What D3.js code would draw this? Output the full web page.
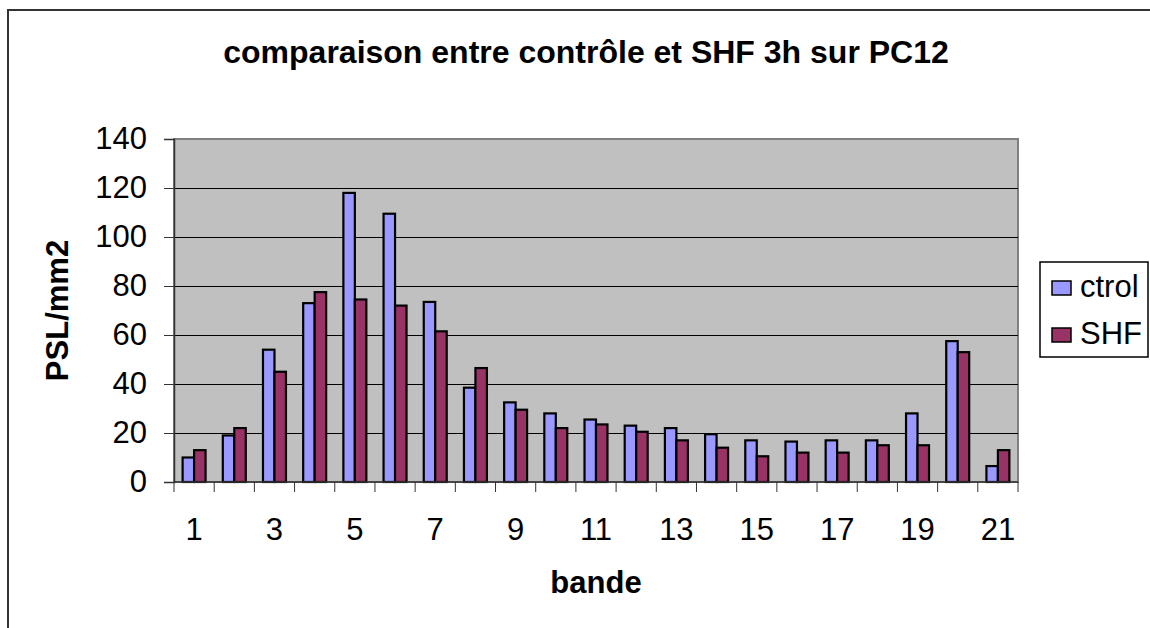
<!DOCTYPE html>
<html>
<head>
<meta charset="utf-8">
<script src="https://cdn.jsdelivr.net/npm/d3@7"></script>
<style>
  body { margin: 0; background: #fff; }
  svg { display: block; font-family: "Liberation Sans", Arial, sans-serif; }
</style>
</head>
<body>
<div id="chart"></div>
<script>
// data
const bandes = d3.range(1, 22)
const series = ["ctrol", "SHF"]
const ctrol = [10, 19, 54, 73, 118, 109.5, 73.5, 38.5, 32.5, 28, 25.5, 23, 22, 19.5, 17, 16.5, 17, 17, 28, 57.5, 6.5]
const shf = [13, 22, 45, 77.5, 74.5, 72, 61.5, 46.5, 29.5, 22, 23.5, 20.5, 17, 14, 10.5, 12, 12, 15, 15, 53, 13]
const yTicks = [0, 20, 40, 60, 80, 100, 120, 140]
const xLabels = bandes.filter(d => d % 2 === 1)
const colors = ["#9999FF", "#993366"]

const width = 1150
const height = 628
const plot = {left: 174, right: 1018, top: 139, bottom: 482}

const svg = d3.select("#chart").append("svg")
    .attr("width", width)
    .attr("height", height)

// outer chart border (runs off the right and bottom)
svg.append("rect")
    .attr("x", 8).attr("y", 10)
    .attr("width", width + 20).attr("height", height + 20)
    .attr("fill", "#fff")
    .attr("stroke", "#333").attr("stroke-width", 2)

const x = d3.scaleBand().domain(bandes).range([plot.left, plot.right])
const xSub = d3.scaleBand().domain(series).range([0, x.bandwidth()]).paddingOuter(0.75)
const y = d3.scaleLinear().domain([0, 140]).range([plot.bottom, plot.top])

// plot area
svg.append("rect")
    .attr("x", plot.left).attr("y", plot.top)
    .attr("width", plot.right - plot.left).attr("height", plot.bottom - plot.top)
    .attr("fill", "#C0C0C0")
    .attr("stroke", "#808080").attr("stroke-width", 2)

// gridlines
svg.append("g")
    .attr("transform", `translate(${plot.left},0)`)
    .call(d3.axisLeft(y).tickValues(yTicks.slice(1, -1)).tickSize(-(plot.right - plot.left)).tickFormat(""))
    .call(g => g.select(".domain").remove())
    .call(g => g.selectAll(".tick line").attr("stroke", "#000").attr("shape-rendering", "crispEdges"))

// bars
const rows = bandes.map((b, i) => ({bande: b, values: [ctrol[i], shf[i]]}))
svg.append("g").selectAll("g")
  .data(rows)
  .join("g")
    .attr("transform", d => `translate(${x(d.bande)},0)`)
  .selectAll("rect")
  .data(d => d.values.map((v, j) => ({key: series[j], value: v, j})))
  .join("rect")
    .attr("x", d => xSub(d.key))
    .attr("y", d => y(d.value))
    .attr("width", xSub.bandwidth())
    .attr("height", d => y(0) - y(d.value))
    .attr("fill", d => colors[d.j])
    .attr("stroke", "#000")
    .attr("stroke-width", 2.2)

// y axis
svg.append("g")
    .attr("transform", `translate(${plot.left},0)`)
    .call(d3.axisLeft(y).tickValues(yTicks).tickSize(10).tickPadding(17))
    .call(g => g.select(".domain").attr("stroke", "#333").attr("stroke-width", 1.5))
    .call(g => g.selectAll(".tick line").attr("stroke", "#333"))
    .call(g => g.selectAll(".tick text")
        .attr("font-size", 31).attr("fill", "#000")
        .attr("font-family", "Liberation Sans, Arial, sans-serif"))

// x axis: ticks at the category boundaries, labels on odd bands
const xAxis = svg.append("g").attr("transform", `translate(0,${plot.bottom})`)
xAxis.append("line")
    .attr("x1", plot.left).attr("x2", plot.right)
    .attr("stroke", "#333").attr("stroke-width", 1.5)
xAxis.selectAll(".bt")
  .data(bandes.concat([null]))
  .join("line")
    .attr("x1", (d, i) => i < bandes.length ? x(d) : plot.right)
    .attr("x2", (d, i) => i < bandes.length ? x(d) : plot.right)
    .attr("y1", 0).attr("y2", 10)
    .attr("stroke", "#333")
xAxis.selectAll("text")
  .data(xLabels)
  .join("text")
    .attr("x", d => x(d) + x.bandwidth() / 2)
    .attr("y", 58)
    .attr("text-anchor", "middle")
    .attr("font-size", 31)
    .text(d => d)

// titles
svg.append("text")
    .attr("x", 586).attr("y", 63)
    .attr("text-anchor", "middle")
    .attr("font-size", 32).attr("font-weight", "bold")
    .text("comparaison entre contrôle et SHF 3h sur PC12")

svg.append("text")
    .attr("x", (plot.left + plot.right) / 2).attr("y", 593)
    .attr("text-anchor", "middle")
    .attr("font-size", 31).attr("font-weight", "bold")
    .text("bande")

svg.append("text")
    .attr("transform", `translate(68,${(plot.top + plot.bottom) / 2}) rotate(-90)`)
    .attr("text-anchor", "middle")
    .attr("font-size", 31).attr("font-weight", "bold")
    .text("PSL/mm2")

// legend
const legend = svg.append("g")
legend.append("rect")
    .attr("x", 1040).attr("y", 262)
    .attr("width", 108).attr("height", 95)
    .attr("fill", "#fff").attr("stroke", "#000").attr("stroke-width", 1.5)
const item = legend.selectAll("g")
  .data(series)
  .join("g")
    .attr("transform", (d, i) => `translate(1052,${281 + i * 47})`)
item.append("rect")
    .attr("width", 19).attr("height", 14)
    .attr("fill", (d, i) => colors[i])
    .attr("stroke", "#000").attr("stroke-width", 1.5)
item.append("text")
    .attr("x", 28).attr("y", 16)
    .attr("font-size", 31)
    .text(d => d)
</script>
</body>
</html>
